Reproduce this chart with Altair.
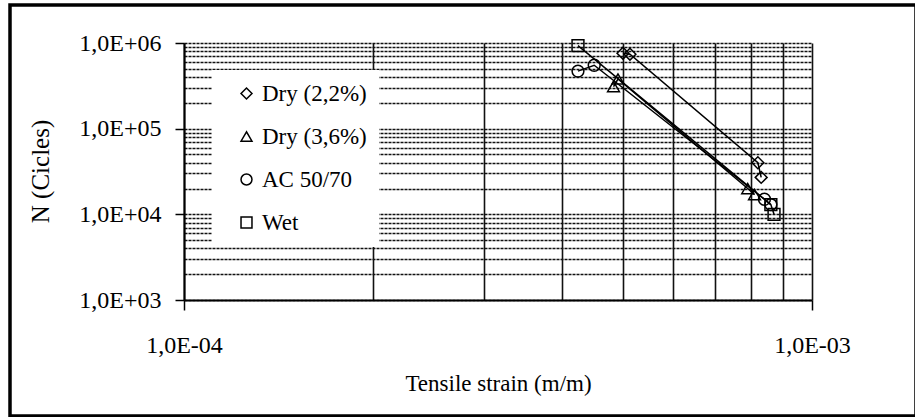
import altair as alt
import pandas as pd

# Fatigue results: tensile strain (m/m) vs. number of cycles to failure
series_names = ["Dry (2,2%)", "Dry (3,6%)", "AC 50/70", "Wet"]
series_shapes = ["diamond", "triangle-up", "circle", "square"]

dry22_strain = [5.00e-4, 5.13e-4, 8.20e-4, 8.30e-4]
dry22_cycles = [7.6e5, 7.4e5, 4.0e4, 2.7e4]

dry36_strain = [4.83e-4, 4.91e-4, 7.90e-4, 8.10e-4]
dry36_cycles = [3.1e5, 3.8e5, 2.0e4, 1.7e4]

ac_strain = [4.24e-4, 4.50e-4, 8.40e-4, 8.60e-4]
ac_cycles = [4.7e5, 5.5e5, 1.5e4, 1.3e4]

wet_strain = [4.24e-4, 8.60e-4, 8.70e-4]
wet_cycles = [9.3e5, 1.3e4, 1.0e4]

x_decades = [1e-4, 1e-3]
x_tick_labels = ["1,0E-04", "1,0E-03"]
y_decades = [1e3, 1e4, 1e5, 1e6]
y_tick_labels = ["1,0E+03", "1,0E+04", "1,0E+05", "1,0E+06"]

rows = []
for name, xs, ys in [
    (series_names[0], dry22_strain, dry22_cycles),
    (series_names[1], dry36_strain, dry36_cycles),
    (series_names[2], ac_strain, ac_cycles),
    (series_names[3], wet_strain, wet_cycles),
]:
    for sx, sy in zip(xs, ys):
        rows.append({"series": name, "strain": sx, "cycles": sy})
df = pd.DataFrame(rows)


def minor_values(decades):
    vals = []
    for d in decades[:-1]:
        vals += [k * d for k in range(1, 10)]
    vals.append(decades[-1])
    return vals


def label_expr(decades, labels):
    expr = "''"
    for d, lab in reversed(list(zip(decades, labels))):
        expr = f"abs(datum.value / {d} - 1) < 1e-6 ? '{lab}' : ({expr})"
    return expr


def decade_test():
    return "abs(log(datum.value) / LN10 - round(log(datum.value) / LN10)) < 1e-6"


FONT = "Liberation Serif"

x_enc = alt.X(
    "strain:Q",
    scale=alt.Scale(type="log", domain=[1e-4, 1e-3], nice=False),
    title="Tensile strain (m/m)",
    axis=alt.Axis(
        values=minor_values(x_decades),
        labelExpr=label_expr(x_decades, x_tick_labels),
        grid=True,
        gridColor="#111111",
        gridWidth=1.6,
        gridOpacity=1,
        tickSize=10,
        tickColor="black",
        tickWidth=1.5,
        tickOpacity={"condition": {"test": decade_test(), "value": 1}, "value": 0},
        domainColor="black",
        domainWidth=2,
        labelFont=FONT,
        labelFontSize=24,
        labelColor="black",
        labelPadding=23,
        labelFlush=False,
        labelOverlap=False,
        titleFont=FONT,
        titleFontSize=23,
        titleFontWeight="normal",
        titleColor="black",
        titleY=83,
        titleBaseline="middle",
    ),
)

y_enc = alt.Y(
    "cycles:Q",
    scale=alt.Scale(type="log", domain=[1e3, 1e6], nice=False),
    title="N (Cicles)",
    axis=alt.Axis(
        values=minor_values(y_decades),
        labelExpr=label_expr(y_decades, y_tick_labels),
        grid=True,
        gridColor="#111111",
        gridWidth=1.6,
        gridDash=[3, 1],
        gridOpacity=1,
        tickSize=9,
        tickColor="black",
        tickWidth=1.5,
        tickOpacity={"condition": {"test": decade_test(), "value": 1}, "value": 0},
        domainColor="black",
        domainWidth=2,
        labelFont=FONT,
        labelFontSize=24,
        labelColor="black",
        labelPadding=14,
        labelFlush=False,
        labelOverlap=False,
        titleFont=FONT,
        titleFontSize=25,
        titleFontWeight="normal",
        titleColor="black",
        titleX=-144,
        titleY=128,
        titleBaseline="middle",
    ),
)

base = alt.Chart(df)

lines = base.mark_line(color="black", strokeWidth=1.5).encode(
    x=x_enc, y=y_enc, detail="series:N"
)

points = base.mark_point(
    filled=False, color="black", size=140, strokeWidth=1.5, opacity=1
).encode(
    x=x_enc,
    y=y_enc,
    shape=alt.Shape(
        "series:N",
        scale=alt.Scale(domain=series_names, range=series_shapes),
        sort=series_names,
        legend=alt.Legend(
            title=None,
            orient="none",
            legendX=28,
            legendY=27,
            fillColor="white",
            padding=12,
            rowPadding=19,
            symbolOffset=11,
            symbolSize=120,
            symbolStrokeColor="black",
            symbolStrokeWidth=1.5,
            symbolFillColor="transparent",
            labelFont=FONT,
            labelFontSize=23,
            labelColor="black",
            labelOffset=4,
            labelLimit=200,
        ),
    ),
)

# outer frame around the whole figure
frame = alt.Chart(pd.DataFrame({"k": [0]})).mark_rect(
    filled=False, stroke="black", strokeWidth=3.5, clip=False
).encode(
    x=alt.value(-174), x2=alt.value(732), y=alt.value(-38), y2=alt.value(373)
)

chart = (
    alt.layer(lines, points, frame)
    .properties(
        width=628,
        height=257,
        padding={"left": 184, "top": 43, "right": 103, "bottom": 117},
        autosize=alt.AutoSizeParams(type="none"),
        background="white",
    )
    .configure_view(stroke=None)
)

chart.save("out.html", embed_options={"renderer": "svg", "actions": False})
